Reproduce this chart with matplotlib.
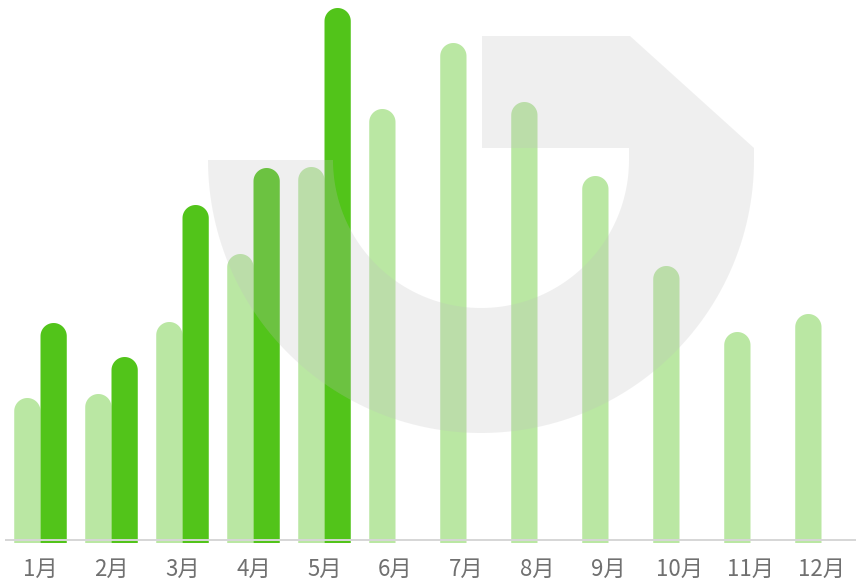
import numpy as np
import matplotlib
matplotlib.use("Agg")
import matplotlib.pyplot as plt
from matplotlib.patches import PathPatch
from matplotlib.path import Path

plt.rcParams['font.family'] = ['Noto Sans CJK SC', 'DejaVu Sans']

# data (arbitrary units)
months = ['1月', '2月', '3月', '4月', '5月', '6月', '7月', '8月', '9月', '10月', '11月', '12月']
last_year = [14.5, 14.9, 22.1, 28.9, 37.6, 43.4, 50.0, 44.1, 36.7, 27.7, 21.1, 22.9]
this_year = [22.0, 18.6, 33.8, 37.5, 53.5]

light_green = '#bae7a3'
dark_green = '#52c41a'
bar_w = 0.37

W, H = 856, 584
fig = plt.figure(figsize=(W / 100, H / 100), dpi=100)
# plot area in pixels: x 5..857, y 0..543
ax = fig.add_axes([5 / W, (H - 543) / H, 852 / W, 543 / H])
ax.set_xlim(-0.5, len(months) - 0.5)
ax.set_ylim(0, 54.3)


def rounded_bar(ax, x, h, w, color):
    # one path: square bottom, half-ellipse top that looks round on screen
    p0 = ax.transData.transform((0, 0))
    p1 = ax.transData.transform((1, 1))
    sx, sy = p1[0] - p0[0], p1[1] - p0[1]
    rx = w / 2
    ry = rx * sx / sy
    t = np.linspace(0, np.pi, 40)
    cap = np.column_stack([x + rx * np.cos(t), h - ry + ry * np.sin(t)])
    verts = np.vstack([[[x - rx, 0], [x + rx, 0]], cap, [[x - rx, 0]]])
    codes = [Path.MOVETO] + [Path.LINETO] * (len(verts) - 2) + [Path.CLOSEPOLY]
    ax.add_patch(PathPatch(Path(verts, codes), facecolor=color, edgecolor='none', zorder=2))


for i, v in enumerate(last_year):
    rounded_bar(ax, i - bar_w / 2, v, bar_w, light_green)
for i, v in enumerate(this_year):
    rounded_bar(ax, i + bar_w / 2, v, bar_w, dark_green)

ax.axhline(0.3, color='#d6d6d6', lw=1.4, zorder=3)
for s in ax.spines.values():
    s.set_visible(False)
ax.set_yticks([])
ax.set_xticks(range(len(months)))
ax.set_xticklabels(months, fontsize=16, color='#707070', fontweight='light')
ax.tick_params(axis='x', length=0, pad=11)

# watermark overlay, drawn in pixel coordinates
wm = fig.add_axes([0, 0, 1, 1], zorder=5)
wm.set_xlim(0, W)
wm.set_ylim(H, 0)
wm.axis('off')
wm.patch.set_alpha(0)
cx, cy, r_out, r_in = 481, 160, 273, 148
t = np.linspace(np.pi, 0, 120)
outer = np.column_stack([cx + r_out * np.cos(t), cy + r_out * np.sin(t)])
top = np.array([[754, 148], [630, 36], [482, 36], [482, 148], [629, 148], [629, 160]])
inner = np.column_stack([cx + r_in * np.cos(t[::-1]), cy + r_in * np.sin(t[::-1])])
verts = np.vstack([outer, top, inner, outer[:1]])
codes = [Path.MOVETO] + [Path.LINETO] * (len(verts) - 2) + [Path.CLOSEPOLY]
wm.add_patch(PathPatch(Path(verts, codes), facecolor='#bfbfbf', edgecolor='none', alpha=0.24))

fig.savefig('out.png', dpi=100)
